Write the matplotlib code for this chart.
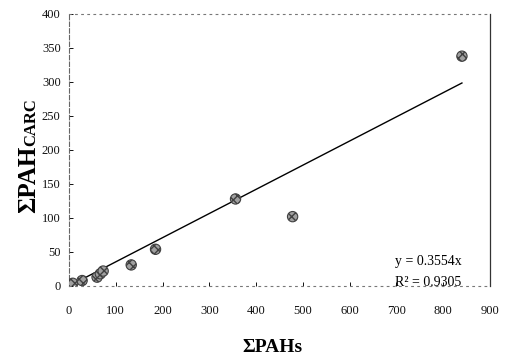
import matplotlib
matplotlib.use('Agg')
import matplotlib.pyplot as plt
import numpy as np

# dados
pahs = [5, 8, 28, 60, 67, 73, 133, 185, 356, 478, 840]
pah_carc = [2, 4, 8, 13, 18, 22, 31, 54, 128, 102, 338]
slope = 0.3554
r2 = 0.9305
x_ticks = [0, 100, 200, 300, 400, 500, 600, 700, 800, 900]
y_ticks = [0, 50, 100, 150, 200, 250, 300, 350, 400]

serif = ['Liberation Serif', 'DejaVu Serif']
plt.rcParams['font.family'] = serif

W, H = 508, 362
fig = plt.figure(figsize=(W / 100, H / 100), dpi=100)
ax = fig.add_axes([69 / W, 1 - 286 / H, (490 - 69) / W, (286 - 14) / H])

# pontos
ax.scatter(pahs, pah_carc, s=55, facecolor='#a0a0a0', edgecolor='#404040',
           hatch='xxxx', linewidth=0.8, zorder=3)

# reta de regressão pela origem
xl = np.array([0, max(pahs)])
ax.plot(xl, slope * xl, color='black', linewidth=1.0, zorder=2)

ax.set_xlim(0, 900)
ax.set_ylim(0, 400)
ax.set_xticks(x_ticks)
ax.set_yticks(y_ticks)
ax.tick_params(direction='in', length=3, width=0.7, labelsize=9, colors='#111')
ax.tick_params(axis='x', pad=14)
ax.tick_params(axis='y', pad=6)

# bordas com aparência de digitalização
for lado in ['top', 'bottom']:
    ax.spines[lado].set_linestyle((0, (1.5, 4)))
    ax.spines[lado].set_color('#777')
    ax.spines[lado].set_linewidth(0.8)
ax.spines['left'].set_linestyle((0, (4, 2)))
ax.spines['left'].set_color('#666')
ax.spines['left'].set_linewidth(0.8)
ax.spines['right'].set_color('#333')
ax.spines['right'].set_linewidth(0.9)

# equação
ax.text(395 / W, 1 - 262 / H, 'y = %.4fx' % slope, transform=fig.transFigure,
        fontsize=10, va='center', ha='left')
ax.text(395 / W, 1 - 282 / H, 'R² = %.4f' % r2, transform=fig.transFigure,
        fontsize=10, va='center', ha='left')

# rótulos dos eixos
fig.text(272 / W, 1 - 348 / H, 'ΣPAHs', fontsize=14, fontweight='bold',
         ha='center', va='center')

t1 = fig.text(35 / W, 1 - 213 / H, 'ΣPAH', fontsize=18, fontweight='bold',
              rotation=90, rotation_mode='anchor', ha='left', va='baseline')
fig.canvas.draw()
bb = t1.get_window_extent()
fig.text(35 / W, bb.y1 / H, 'CARC', fontsize=12, fontweight='bold',
         rotation=90, rotation_mode='anchor', ha='left', va='baseline')

fig.savefig('out.png', dpi=100)
